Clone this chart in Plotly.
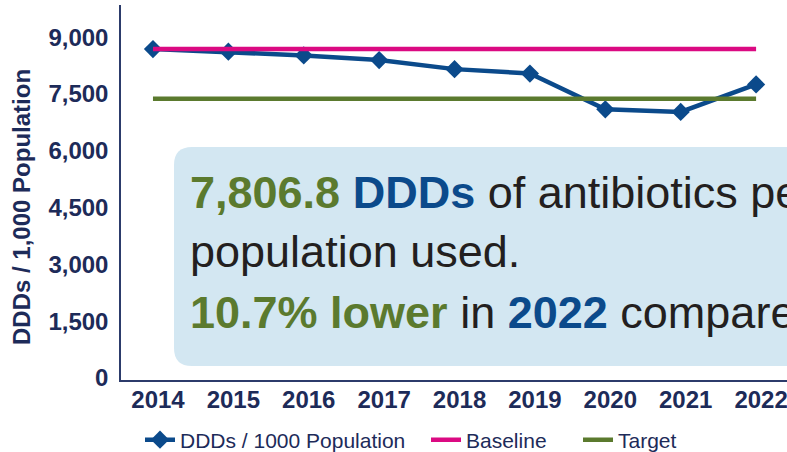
import plotly.graph_objects as go

# Antibiotic use, DDDs per 1,000 population, with baseline and target levels
years = ["2014", "2015", "2016", "2017", "2018", "2019", "2020", "2021", "2022"]
ddds_per_1000 = [8742, 8671, 8574, 8450, 8211, 8095, 7150, 7080, 7806.8]
baseline = [8742, 8742, 8742, 8742, 8742, 8742, 8742, 8742, 8742]
target = [7431, 7431, 7431, 7431, 7431, 7431, 7431, 7431, 7431]
y_ticks = [0, 1500, 3000, 4500, 6000, 7500, 9000]

NAVY = "#0b4a8b"
MAGENTA = "#db0a82"
GREEN = "#5b7a2e"
TEXT_NAVY = "#1d2b59"
BODY = "#231f20"
FONT = "Liberation Sans, Arial, sans-serif"

W, H = 787, 452

fig = go.Figure()
fig.add_trace(go.Scatter(
    x=years, y=ddds_per_1000, name="DDDs / 1000 Population", mode="lines+markers",
    line=dict(color=NAVY, width=4.5),
    marker=dict(symbol="diamond", size=14, color=NAVY),
    legend="legend",
))
fig.add_trace(go.Scatter(
    x=years, y=baseline, name="Baseline", mode="lines",
    line=dict(color=MAGENTA, width=4.5), legend="legend2",
))
fig.add_trace(go.Scatter(
    x=years, y=target, name="Target", mode="lines",
    line=dict(color=GREEN, width=4.5), legend="legend3",
))

legend_common = dict(
    orientation="h", xref="container", yref="container",
    yanchor="middle", xanchor="left", bgcolor="rgba(0,0,0,0)",
    font=dict(family=FONT, size=21, color=TEXT_NAVY),
)

fig.update_layout(
    width=W, height=H,
    margin=dict(l=121, r=0, t=5, b=72),
    paper_bgcolor="white", plot_bgcolor="white",
    font=dict(family=FONT, color=TEXT_NAVY),
    showlegend=True,
    legend=dict(x=140 / W, y=1 - 440 / H, **legend_common),
    legend2=dict(x=426 / W, y=1 - 440 / H, **legend_common),
    legend3=dict(x=578 / W, y=1 - 440 / H, **legend_common),
    xaxis=dict(
        type="category", range=[-0.424, 8.41],
        showgrid=False, zeroline=False,
        showline=True, linecolor="#2c3b6b", linewidth=1.5,
        ticks="", ticklabelstandoff=-3, ticklabelshift=5,
        tickfont=dict(family=FONT, size=24, color=TEXT_NAVY, weight="bold"),
    ),
    yaxis=dict(
        range=[0, 9905], tickvals=y_ticks, tickformat=",",
        showgrid=False, zeroline=False,
        showline=True, linecolor="#2c3b6b", linewidth=1.5,
        ticks="", ticklabelstandoff=6, ticklabelshift=-2,
        tickfont=dict(family=FONT, size=24, color=TEXT_NAVY, weight="bold"),
    ),
)

# Y-axis title
fig.add_annotation(
    text="<b>DDDs / 1,000 Population</b>", textangle=-90,
    xref="paper", yref="paper", x=(22 - 121) / 666, y=(380 - 207) / 375,
    xanchor="center", yanchor="middle", showarrow=False,
    font=dict(family=FONT, size=24, color=TEXT_NAVY),
)

# Call-out box with rounded left corners (runs off the right edge)
def px(x):
    return (x - 121) / 666

def py(y):
    return (380 - y) / 375

L, T, B, R, r = 174, 147, 366, 860, 18
path = (
    f"M {px(L + r)},{py(T)} L {px(R)},{py(T)} L {px(R)},{py(B)} L {px(L + r)},{py(B)} "
    f"Q {px(L)},{py(B)} {px(L)},{py(B - r)} L {px(L)},{py(T + r)} "
    f"Q {px(L)},{py(T)} {px(L + r)},{py(T)} Z"
)
fig.add_shape(type="path", path=path, xref="paper", yref="paper",
              fillcolor="#d3e7f2", line=dict(width=0), layer="above")

def span(txt, color, bold=False):
    t = f"<span style='color:{color}'>{txt}</span>"
    return f"<b>{t}</b>" if bold else t

lines = [
    (span("7,806.8", GREEN, True) + " " + span("DDDs", NAVY, True) + " " + span("of antibiotics per", BODY), 192),
    (span("population used.", BODY), 251),
    (span("10.7% lower", GREEN, True) + " " + span("in", BODY) + " " + span("2022", NAVY, True) + " " + span("compared", BODY), 312),
]
for txt, ycen in lines:
    fig.add_annotation(
        text=txt, xref="paper", yref="paper", x=px(188), y=py(ycen),
        xanchor="left", yanchor="middle", showarrow=False, align="left",
        font=dict(family=FONT, size=45, color=BODY),
    )

fig.write_html("out.html")
